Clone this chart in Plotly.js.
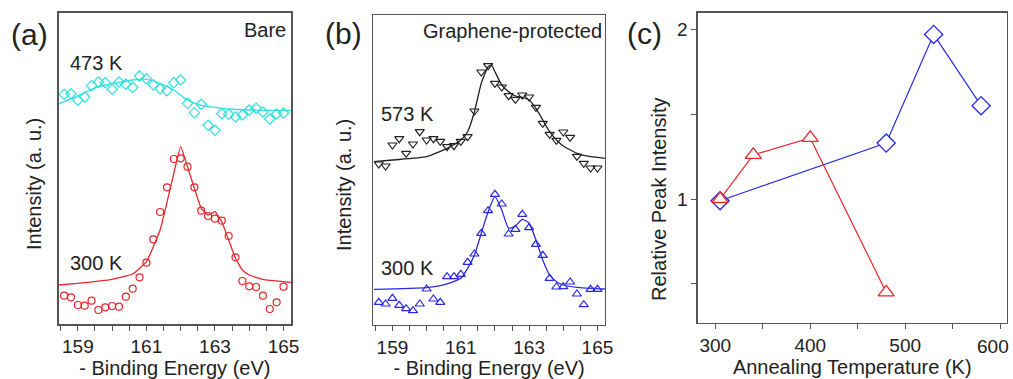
<!DOCTYPE html>
<html><head><meta charset="utf-8">
<script src="https://cdn.plot.ly/plotly-3.0.1.min.js"></script>
<style>html,body{margin:0;padding:0;background:#fff}#chart{width:1013px;height:379px}</style>
</head><body><div id="chart"></div>
<script>
// ---- Panel (a): Bare ----
const energyPts = [158.6,158.8,159.0,159.2,159.4,159.6,159.8,160.0,160.2,160.4,160.6,160.8,161.0,161.2,161.4,161.6,161.8,162.0,162.2,162.4,162.6,162.8,163.0,163.2,163.4,163.6,163.8,164.0,164.2,164.4,164.6,164.8,165.0];
const bare473 = [229.7,230.3,223.7,227,238.3,242,241.3,234.7,242,239.7,236.7,248,245.3,239.3,235.3,233.3,241.3,244,220.7,211.3,219.7,198.7,193.7,210.3,209.7,207,209,214,215.7,212,205,210,211];
const bare300 = [28.3,26.7,19,18.3,23.3,14,16.7,18,17.3,27.3,35.3,46.7,61.3,84.7,112,136.7,165,165.7,157.3,136.7,113.3,108,105.3,103.3,88,66.7,43,37.7,37,28.3,15,21.7,37.3];
const fitX473 = [158.43,158.6,159.0,159.4,159.8,160.2,160.6,160.8,161.0,161.4,161.8,162.2,162.6,163.0,163.4,164.0,165.0,165.22];
const fit473 = [219.7,222.3,228,234.7,239,241.7,244,244.7,244.7,240.7,234,224,218.7,216.7,215,214,213.7,213.7];
const fitX300a = [158.43,159.0,160.0,160.6,161.0,161.4,161.8,162.0,162.2,162.4,162.6,162.8,163.0,163.2,163.4,163.6,163.8,164.0,164.4,165.0,165.22];
const fit300a = [39,40.7,44.7,50,62.3,94,150.7,177.3,157.3,135.7,115.7,109,112.3,102.3,84,65.7,54,49,44.7,42.3,41.7];

// ---- Panel (b): Graphene-protected ----
const gp573 = [161,159,180,186.3,171.7,181,193.3,185,186.3,183.7,178.3,179.3,183.7,188.3,214,253,259.3,241.7,238,229.3,225.7,230,228,217.7,201.7,190.7,184.7,193,187.7,168.7,161.7,157,157];
const gp300 = [22.7,21,26.7,19.7,16.3,14.3,21,36,26,22.7,48.3,48.3,50.7,62.7,71,91.7,114.3,130.7,121,91,95.7,110.7,97.3,80.7,69.7,46.7,38,38.3,43,31,20.3,35.7,35.7];
const fitXb = [158.46,159.0,160.0,160.6,161.0,161.2,161.4,161.6,161.8,161.9,162.0,162.2,162.4,162.6,162.8,163.0,163.2,163.4,163.6,163.8,164.0,164.4,164.8,165.22];
const fit573 = [163.3,165,168.3,176.7,185,193.3,213.3,241.7,258.3,260,253.3,240,233.3,229,227.7,225,216.7,205,193.3,185,179,171.7,168.3,166.7];
const fitXb300 = [158.46,160.0,160.6,161.0,161.2,161.4,161.6,161.8,162.0,162.2,162.4,162.6,162.8,163.0,163.2,163.4,163.6,163.8,164.0,164.4,165.22];
const fit300b = [35.7,37.3,41,46.7,56.7,70,91.7,113.3,128.3,115,96.7,99,105.7,101.7,85,65,50,43.3,40,37.7,36];

// ---- Panel (c): Relative peak intensity ----
const tempBare = [305,340,400,480];
const relBare = [1.0,1.26,1.36,0.45];
const tempGp = [305,480,530,580];
const relGp = [0.99,1.33,1.97,1.55];

const energyTicks = [159,161,163,165];
const tempTicks = [300,400,500,600];
const tempTickText = ['300','400','500',''];   // the edge label "600" is placed as an annotation below
const edgeTempTick = 600;
const relTicks = [1,2];

const FONT = 'Liberation Sans, Arial, sans-serif';
const cyan = '#2fe0e0', red = '#e8262b', blue = '#2b2be6', black = '#222222';
const frame = '#555555';

function mk(x,y,color,symbol,size,xa,ya){
  return {x:x,y:y,type:'scatter',mode:'markers',xaxis:xa,yaxis:ya,
    marker:{symbol:symbol,size:size,color:color,line:{color:color,width:1.2}},
    hoverinfo:'skip',showlegend:false};
}
function ln(x,y,color,xa,ya,sm){
  return {x:x,y:y,type:'scatter',mode:'lines',line:{color:color,width:1.3,shape:'spline',smoothing:sm},
    xaxis:xa,yaxis:ya,hoverinfo:'skip',showlegend:false};
}

const traces = [
  ln(fitX473,fit473,cyan,'x','y',0.8),
  mk(energyPts,bare473,cyan,'diamond-open',8,'x','y'),
  ln(fitX300a,fit300a,red,'x','y',0.35),
  mk(energyPts,bare300,red,'circle-open',7,'x','y'),
  ln(fitXb,fit573,black,'x2','y2',0.5),
  mk(energyPts,gp573,black,'triangle-down-open',8,'x2','y2'),
  ln(fitXb300,fit300b,blue,'x2','y2',0.5),
  mk(energyPts,gp300,blue,'triangle-up-open',8,'x2','y2'),
  {x:tempGp,y:relGp,type:'scatter',mode:'lines+markers',xaxis:'x3',yaxis:'y3',
    line:{color:blue,width:1.2},marker:{symbol:'diamond',size:14,color:'#ffffff',line:{color:blue,width:1.3}},
    hoverinfo:'skip',showlegend:false},
  {x:tempBare,y:relBare,type:'scatter',mode:'lines+markers',xaxis:'x3',yaxis:'y3',
    line:{color:red,width:1.2},marker:{symbol:'triangle-up',size:14,color:'#ffffff',line:{color:red,width:1.3}},
    hoverinfo:'skip',showlegend:false}
];

const tickFont = {family:FONT,size:19,color:'#222'};
const titleFont = {family:FONT,size:20,color:'#222'};
function energyAxis(domain){
  return {domain:domain,range:[158.44,165.22],tickmode:'array',tickvals:energyTicks,ticktext:energyTicks.map(String),
    ticks:'outside',ticklen:5,tickcolor:frame,tickwidth:1,
    minor:{dtick:0.5,tick0:158.5,ticks:'outside',ticklen:5,tickcolor:frame,tickwidth:1},
    showline:true,mirror:true,linecolor:frame,linewidth:1.5,showgrid:false,zeroline:false,
    tickfont:tickFont,title:{text:'- Binding Energy (eV)',font:titleFont,standoff:2}};
}
function blankY(domain,range){
  return {domain:domain,range:range,showticklabels:false,ticks:'',showline:true,mirror:true,linecolor:frame,linewidth:1.5,
    showgrid:false,zeroline:false};
}
const ann = (text,xref,yref,x,y,size,xanchor,angle) => ({text:text,xref:xref,yref:yref,x:x,y:y,showarrow:false,
  font:{family:FONT,size:size,color:'#222'},xanchor:xanchor,yanchor:'middle',textangle:angle||0});

const edgeLabel = ann(String(edgeTempTick),'x3','paper',edgeTempTick,1-346/379,19,'right');
edgeLabel.xshift = 11;

const layout = {
  width:1013,height:379,margin:{l:0,r:0,t:0,b:0},paper_bgcolor:'#fff',plot_bgcolor:'#fff',
  font:{family:FONT,color:'#222'},showlegend:false,
  xaxis:Object.assign(energyAxis([0.0579,0.2873]),{anchor:'y'}),
  yaxis:Object.assign(blankY([0.1451,0.9657],[0,311]),{anchor:'x'}),
  xaxis2:Object.assign(energyAxis([0.3685,0.5972]),{anchor:'y2'}),
  yaxis2:Object.assign(blankY([0.1425,0.9604],[0,310]),{anchor:'x2'}),
  xaxis3:{domain:[0.6888,0.9938],anchor:'y3',range:[281.5,607],tickmode:'array',tickvals:tempTicks,ticktext:tempTickText,
    ticks:'outside',ticklen:5,tickcolor:frame,minor:{dtick:50,tick0:300,ticks:'outside',ticklen:5,tickcolor:frame},
    showline:true,mirror:true,linecolor:frame,linewidth:1.5,showgrid:false,zeroline:false,tickfont:tickFont,
    title:{text:'Annealing Temperature (K)',font:titleFont,standoff:2}},
  yaxis3:{domain:[0.1485,0.9665],anchor:'x3',range:[0.271,2.098],tickmode:'array',tickvals:relTicks,ticktext:relTicks.map(String),
    ticks:'outside',ticklen:5,tickcolor:frame,minor:{dtick:0.5,tick0:0.5,ticks:'outside',ticklen:5,tickcolor:frame},
    showline:true,mirror:true,linecolor:frame,linewidth:1.5,showgrid:false,zeroline:false,tickfont:tickFont},
  annotations:[
    ann('(a)','paper','paper',9/1013,1-35/379,30,'left'),
    ann('(b)','paper','paper',323/1013,1-33/379,30,'left'),
    ann('(c)','paper','paper',625/1013,1-33/379,30,'left'),
    ann('Intensity (a. u.)','paper','paper',34/1013,1-184/379,20,'center',-90),
    ann('Intensity (a. u.)','paper','paper',344/1013,1-185/379,20,'center',-90),
    ann('Relative Peak Intensity','paper','paper',659/1013,1-200/379,20,'center',-90),
    ann('Bare','x domain','y domain',0.985,0.945,20,'right'),
    ann('473 K','x domain','y domain',0.04,0.84,20,'left'),
    ann('300 K','x domain','y domain',0.04,0.195,20,'left'),
    ann('Graphene-protected','x2 domain','y2 domain',0.995,0.95,20,'right'),
    ann('573 K','x2 domain','y2 domain',0.025,0.68,20,'left'),
    ann('300 K','x2 domain','y2 domain',0.025,0.185,20,'left'),
    edgeLabel
  ]
};
Plotly.newPlot('chart',traces,layout,{staticPlot:true,displayModeBar:false});
</script></body></html>
